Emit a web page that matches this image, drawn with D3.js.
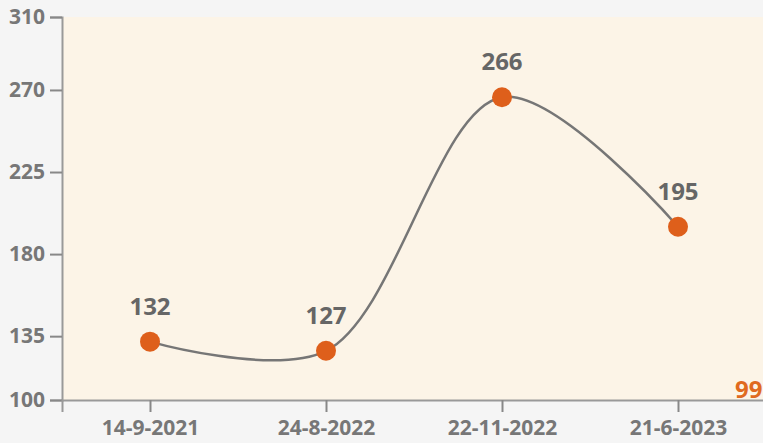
<!DOCTYPE html>
<html>
<head>
<meta charset="utf-8">
<script src="https://cdn.jsdelivr.net/npm/d3@7"></script>
<style>
	body { margin: 0; background: #f5f5f5; }
	svg { display: block; font-family: "Open Sans", "Noto Sans", sans-serif; }
</style>
</head>
<body>
<svg id="chart" width="763" height="443"></svg>
<script>
var dates = ["14-9-2021", "24-8-2022", "22-11-2022", "21-6-2023"];
var values = [132, 127, 266, 195];
var yTicks = [100, 135, 180, 225, 270, 310];
var cornerLabel = "99";

var margin = {top: 17, right: -3, bottom: 43, left: 62};
var width = 763 - margin.left - margin.right;
var height = 443 - margin.top - margin.bottom;

var svg = d3.select("#chart");
svg.append("rect")
	.attr("width", 763)
	.attr("height", 443)
	.attr("fill", "#f5f5f5");

var g = svg.append("g")
	.attr("transform", "translate(" + margin.left + "," + margin.top + ")");

var x = d3.scalePoint()
	.domain(dates)
	.range([0, width])
	.padding(0.5);

var y = d3.scaleLinear()
	.domain([100, 310])
	.range([height, 0]);

g.append("rect")
	.attr("width", width)
	.attr("height", height)
	.attr("fill", "#fcf4e7");

var data = dates.map(function(d, i){ return {date: d, value: values[i]}; });

var line = d3.line()
	.x(function(d){ return x(d.date); })
	.y(function(d){ return y(d.value); })
	.curve(d3.curveCatmullRom);

g.append("path")
	.datum(data)
	.attr("fill", "none")
	.attr("stroke", "#767676")
	.attr("stroke-width", 2.5)
	.attr("d", line);

g.selectAll(".dot")
	.data(data)
	.enter().append("circle")
		.attr("class", "dot")
		.attr("cx", function(d){ return x(d.date); })
		.attr("cy", function(d){ return y(d.value); })
		.attr("r", 10)
		.attr("fill", "#de5f1b");

g.selectAll(".val")
	.data(data)
	.enter().append("text")
		.attr("class", "val")
		.attr("x", function(d){ return x(d.date); })
		.attr("y", function(d){ return y(d.value) - 27; })
		.attr("text-anchor", "middle")
		.attr("font-size", 24)
		.attr("font-weight", "bold")
		.attr("fill", "#666")
		.text(function(d){ return d.value; });

g.append("text")
	.attr("x", 673)
	.attr("y", height - 2)
	.attr("font-size", 24)
	.attr("font-weight", "bold")
	.attr("fill", "#e06a1f")
	.text(cornerLabel);

var yAxis = g.append("g")
	.call(d3.axisLeft(y).tickValues(yTicks).tickSize(12).tickPadding(5));
var xAxis = g.append("g")
	.attr("transform", "translate(0," + height + ")")
	.call(d3.axisBottom(x).tickSize(12).tickPadding(8));

[yAxis, xAxis].forEach(function(ax){
	ax.select(".domain").attr("stroke", "#999").attr("stroke-width", 2);
	ax.selectAll(".tick line").attr("stroke", "#888").attr("stroke-width", 2);
	ax.selectAll("text")
		.attr("fill", "#777")
		.attr("font-size", 21)
		.attr("font-weight", "bold")
		.attr("font-family", "\"Open Sans\", \"Noto Sans\", sans-serif");
});
</script>
</body>
</html>
